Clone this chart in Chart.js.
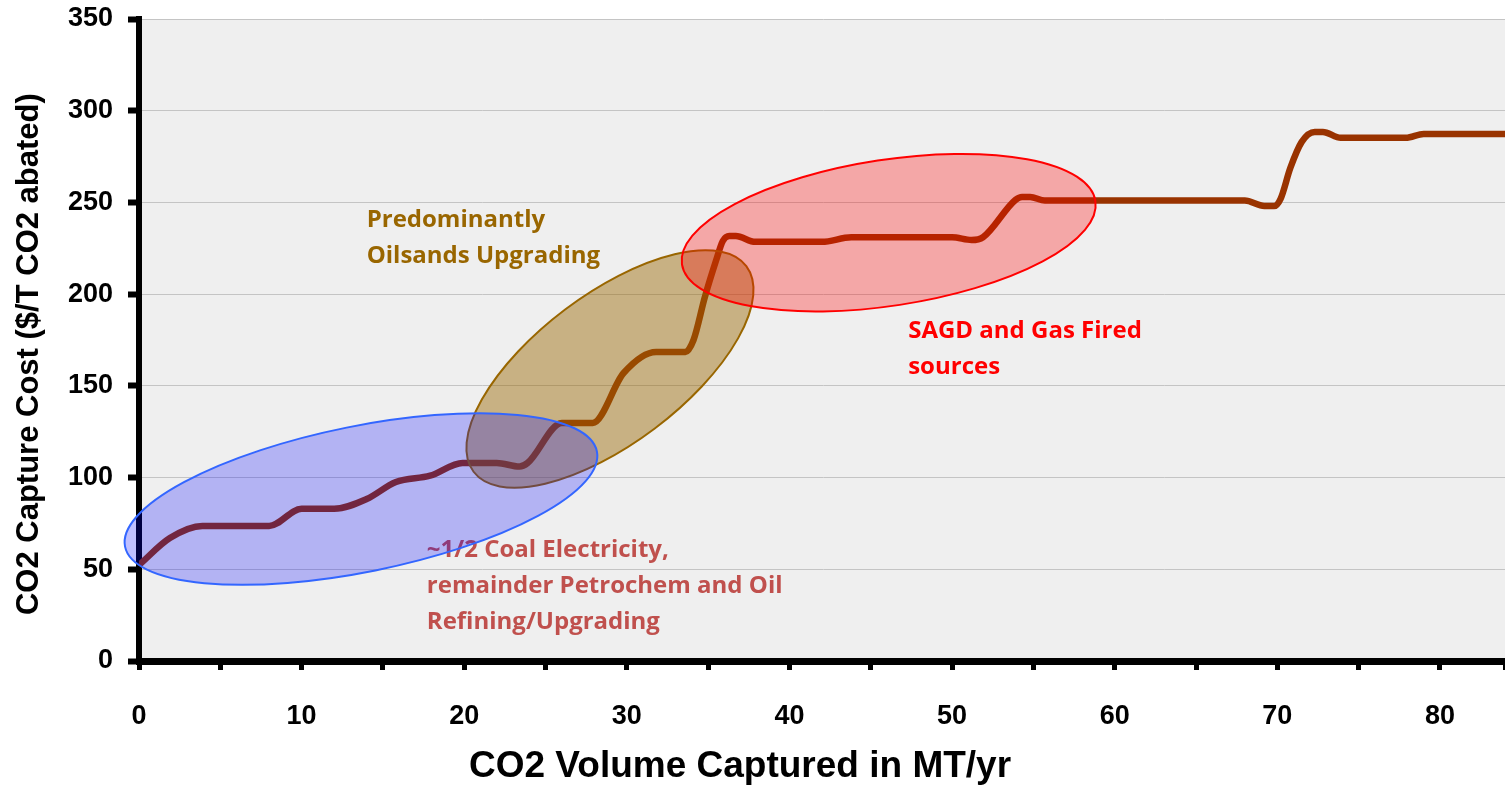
<!DOCTYPE html>
<html>
<head>
<meta charset="utf-8">
<title>CO2 capture cost curve</title>
<script src="https://cdn.jsdelivr.net/npm/chart.js@4.4.1/dist/chart.umd.min.js"></script>
<style>
    html, body { margin: 0; padding: 0; background: #fff; }
    #wrap { width: 1505px; height: 786px; position: relative; }
</style>
</head>
<body>
<div id="wrap"><canvas id="costChart"></canvas></div>
<script>
// cumulative volume captured (MT/yr) vs capture cost ($/T)
const volumeCaptured = [0, 1.9, 3.9, 8.0, 10.0, 12.0, 14.0, 15.8, 17.9, 19.9, 22.0, 23.4, 23.9, 26.0, 27.9,
    29.8, 31.8, 33.6, 34.1, 34.8, 35.5, 35.9, 36.3, 36.7, 37.9, 42.0, 43.8, 50.0, 51.2, 51.9,
    53.9, 54.3, 54.8, 55.7, 68.0, 69.2, 69.8, 70.2, 70.8, 71.5, 72.3, 72.8, 73.9, 77.9, 79.0, 84];
const captureCost = [52.3, 67, 73.6, 73.6, 83, 83, 88.3, 97.6, 101, 108, 108, 106, 108, 129.8, 129.8,
    157, 168.5, 168.5, 175, 198.5, 218.7, 229, 231.7, 231.7, 228.5, 228.5, 231, 231, 229.5, 231,
    251.4, 253, 253, 251, 251, 248, 248, 252, 268.8, 283, 288.4, 288.4, 285.2, 285.2, 287.3, 287.3];

const xAxisMax = 84;
const yAxisMax = 350;

// groups of sources circled on the curve
const zoneLabels = [
    ["Predominantly", "Oilsands Upgrading"],
    ["~1/2 Coal Electricity,", "remainder Petrochem and Oil", "Refining/Upgrading"],
    ["SAGD and Gas Fired", "sources"]
];

const zones = [
    { text: zoneLabels[0], tx: 14.0, ty: 236.6, color: "#996600",
      cx: 28.96, cy: 159.2, a: 10.5, b: 4.58, angle: 37, fill: "rgba(153,102,0,0.45)", stroke: "#996600" },
    { text: zoneLabels[1], tx: 17.7, ty: 56.7, color: "#c0504d",
      cx: 13.65, cy: 88.3, a: 14.8, b: 4.48, angle: 11.4, fill: "rgba(0,0,255,0.25)", stroke: "#3366ff" },
    { text: zoneLabels[2], tx: 47.3, ty: 176, color: "#ff0000",
      cx: 46.1, cy: 233.5, a: 12.86, b: 4.49, angle: 8.7, fill: "rgba(255,0,0,0.3)", stroke: "#ff0000" }
];

const plotBackground = {
    id: "plotBackground",
    beforeDraw(chart) {
        const { ctx, chartArea: a } = chart;
        ctx.save();
        ctx.fillStyle = "#efefef";
        ctx.fillRect(a.left, a.top, a.right - a.left, a.bottom - a.top);
        ctx.restore();
    }
};

const zonePlugin = {
    id: "zonePlugin",
    afterDatasetsDraw(chart) {
        const { ctx, scales: { x, y } } = chart;
        const ppu = x.getPixelForValue(1) - x.getPixelForValue(0);
        ctx.save();

        ctx.font = "bold 24px 'Open Sans'";
        ctx.textAlign = "left";
        ctx.textBaseline = "alphabetic";
        zones.forEach(z => {
            ctx.fillStyle = z.color;
            const left = x.getPixelForValue(z.tx);
            const base = y.getPixelForValue(z.ty);
            z.text.forEach((line, i) => ctx.fillText(line, left, base + i * 36));
        });

        zones.forEach(z => {
            ctx.beginPath();
            ctx.ellipse(x.getPixelForValue(z.cx), y.getPixelForValue(z.cy),
                z.a * ppu, z.b * ppu, -z.angle * Math.PI / 180, 0, Math.PI * 2);
            ctx.fillStyle = z.fill;
            ctx.fill();
            ctx.lineWidth = 2;
            ctx.strokeStyle = z.stroke;
            ctx.stroke();
        });
        ctx.restore();
    }
};

const axisTitles = {
    id: "axisTitles",
    afterDraw(chart) {
        const { ctx, chartArea: a } = chart;
        ctx.save();
        ctx.fillStyle = "#000";
        ctx.textAlign = "center";
        ctx.textBaseline = "middle";

        ctx.font = "bold 37px 'Liberation Sans', Arial";
        ctx.fillText("CO2 Volume Captured in MT/yr", a.left + (a.right - a.left) * 0.44, a.bottom + 106);

        ctx.font = "bold 31px 'Liberation Sans', Arial";
        ctx.translate(29, a.top + (a.bottom - a.top) * 0.522);
        ctx.rotate(-Math.PI / 2);
        ctx.fillText("CO2 Capture Cost ($/T CO2 abated)", 0, 0);
        ctx.restore();
    }
};

const points = volumeCaptured.map((v, i) => ({ x: v, y: captureCost[i] }));

new Chart(document.getElementById("costChart"), {
    type: "line",
    data: {
        datasets: [{
            data: points,
            borderColor: "#993300",
            borderWidth: 6.5,
            pointRadius: 0,
            cubicInterpolationMode: "monotone",
            borderJoinStyle: "round"
        }]
    },
    options: {
        responsive: true,
        maintainAspectRatio: false,
        animation: false,
        layout: { padding: { top: 19, right: 0, left: 0, bottom: 0 } },
        plugins: {
            legend: { display: false },
            tooltip: { enabled: false }
        },
        scales: {
            x: {
                type: "linear",
                min: 0,
                max: xAxisMax,
                afterFit: scale => {
                    scale.height = 125;
                    scale.paddingLeft = 0;
                    scale.paddingRight = 0;
                },
                border: { display: true, color: "#000", width: 7 },
                grid: { drawOnChartArea: false, drawTicks: true, tickColor: "#000", tickWidth: 5, tickLength: 9 },
                ticks: {
                    stepSize: 5,
                    autoSkip: false,
                    maxRotation: 0,
                    padding: 30,
                    color: "#000",
                    font: { family: "'Liberation Sans', Arial", size: 27, weight: "bold" },
                    callback: v => (v % 10 === 0 ? v : "")
                }
            },
            y: {
                min: 0,
                max: yAxisMax,
                afterFit: scale => {
                    scale.width = 139;
                    scale.paddingTop = 0;
                    scale.paddingBottom = 0;
                },
                border: { display: true, color: "#000", width: 6 },
                grid: { color: "#c4c4c4", lineWidth: 1, drawTicks: true, tickColor: "#000", tickWidth: 6, tickLength: 11 },
                ticks: {
                    stepSize: 50,
                    padding: 15,
                    color: "#000",
                    font: { family: "'Liberation Sans', Arial", size: 27, weight: "bold" }
                }
            }
        }
    },
    plugins: [plotBackground, zonePlugin, axisTitles]
});
</script>
</body>
</html>
